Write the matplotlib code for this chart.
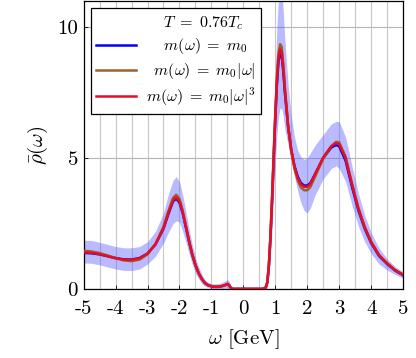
import matplotlib
matplotlib.use("Agg")
import matplotlib.pyplot as plt
from matplotlib.lines import Line2D

plt.rcParams['mathtext.fontset'] = 'cm'
plt.rcParams['font.family'] = ['cmr10', 'DejaVu Serif']
plt.rcParams['axes.unicode_minus'] = False

omega = [-5.0, -4.75, -4.5, -4.25, -4.0, -3.75, -3.5, -3.25, -3.0, -2.75, -2.5, -2.35, -2.2, -2.1, -2.0,
         -1.9, -1.8, -1.7, -1.6, -1.5, -1.4, -1.3, -1.2, -1.1, -1.0, -0.9, -0.8, -0.7, -0.6, -0.5,
         -0.45, -0.4, -0.35, 0.0, 0.6, 0.7, 0.75, 0.8, 0.85, 0.9, 0.95, 1.0, 1.05, 1.1, 1.15,
         1.2, 1.25, 1.3, 1.4, 1.5, 1.6, 1.7, 1.8, 1.9, 2.0, 2.1, 2.25, 2.5, 2.75, 2.9,
         3.0, 3.2, 3.4, 3.6, 3.8, 4.0, 4.25, 4.5, 4.75, 5.0]

rho_const = [1.38, 1.36, 1.32, 1.25, 1.18, 1.13, 1.12, 1.18, 1.35, 1.70, 2.30, 2.85, 3.35, 3.45, 3.30,
             2.90, 2.35, 1.80, 1.30, 0.90, 0.60, 0.38, 0.22, 0.14, 0.10, 0.08, 0.08, 0.10, 0.13, 0.19,
             0.15, 0.05, 0.00, 0.00, 0.00, 0.05, 0.25, 0.90, 2.00, 3.40, 5.00, 6.50, 7.80, 8.70, 9.00,
             8.90, 8.30, 7.50, 6.20, 5.30, 4.70, 4.30, 4.05, 3.95, 3.95, 4.05, 4.40, 5.00, 5.40, 5.50,
             5.45, 4.90, 3.90, 3.00, 2.30, 1.75, 1.25, 0.95, 0.70, 0.52]

rho_lin = [1.46, 1.43, 1.37, 1.28, 1.18, 1.09, 1.06, 1.12, 1.32, 1.72, 2.38, 2.96, 3.48, 3.60, 3.44,
           3.00, 2.42, 1.84, 1.32, 0.91, 0.60, 0.38, 0.22, 0.14, 0.10, 0.08, 0.08, 0.10, 0.13, 0.19,
           0.15, 0.05, 0.00, 0.00, 0.00, 0.05, 0.26, 0.95, 2.10, 3.55, 5.20, 6.75, 8.10, 9.00, 9.35,
           9.25, 8.60, 7.70, 6.25, 5.25, 4.60, 4.15, 3.88, 3.77, 3.77, 3.90, 4.30, 4.98, 5.45, 5.62,
           5.60, 5.05, 4.02, 3.08, 2.36, 1.79, 1.28, 0.97, 0.72, 0.54]

rho_cub = [1.40, 1.38, 1.33, 1.25, 1.17, 1.12, 1.11, 1.17, 1.35, 1.71, 2.33, 2.90, 3.40, 3.50, 3.36,
           2.95, 2.40, 1.84, 1.33, 0.92, 0.61, 0.38, 0.22, 0.14, 0.10, 0.08, 0.08, 0.10, 0.13, 0.19,
           0.15, 0.05, 0.00, 0.00, 0.00, 0.05, 0.25, 0.92, 2.05, 3.48, 5.10, 6.62, 7.95, 8.85, 9.15,
           9.05, 8.45, 7.60, 6.25, 5.32, 4.68, 4.25, 4.00, 3.90, 3.90, 4.02, 4.40, 5.03, 5.45, 5.57,
           5.53, 5.00, 4.00, 3.08, 2.36, 1.80, 1.29, 0.98, 0.72, 0.54]

band_upper = [1.86, 1.85, 1.78, 1.70, 1.62, 1.57, 1.57, 1.62, 1.80, 2.20, 2.90, 3.60, 4.15, 4.30, 4.10,
              3.60, 2.95, 2.30, 1.70, 1.20, 0.85, 0.55, 0.35, 0.25, 0.20, 0.19, 0.20, 0.23, 0.28, 0.36,
              0.30, 0.15, 0.05, 0.00, 0.00, 0.15, 0.50, 1.40, 2.80, 4.50, 6.40, 8.30, 10.0, 11.2, 11.6,
              11.5, 10.6, 9.50, 7.80, 6.60, 5.80, 5.30, 5.05, 4.95, 5.00, 5.20, 5.50, 5.90, 6.30, 6.40,
              6.40, 5.80, 4.70, 3.65, 2.80, 2.15, 1.55, 1.15, 0.85, 0.65]

band_lower = [0.99, 0.98, 0.92, 0.84, 0.76, 0.71, 0.70, 0.76, 0.95, 1.25, 1.75, 2.15, 2.50, 2.60, 2.55,
              2.20, 1.80, 1.35, 0.95, 0.60, 0.38, 0.20, 0.10, 0.05, 0.02, 0.00, 0.00, 0.01, 0.02, 0.04,
              0.00, 0.00, 0.00, 0.00, 0.00, 0.00, 0.05, 0.50, 1.30, 2.40, 3.70, 4.90, 5.90, 6.60, 6.90,
              6.90, 6.60, 6.10, 5.50, 4.90, 4.30, 3.75, 3.30, 3.00, 2.90, 3.10, 3.60, 4.20, 4.60, 4.70,
              4.60, 4.10, 3.20, 2.40, 1.80, 1.35, 0.95, 0.72, 0.55, 0.40]

xticks = [-5, -4, -3, -2, -1, 0, 1, 2, 3, 4, 5]
xticklabels = ['-5', '-4', '-3', '-2', '-1', '0', '1', '2', '3', '4', '5']
yticks = [0, 5, 10]
yticklabels = ['0', '5', '10']

labels = [r'$\quad\; T \;=\; 0.76 T_c$', r'$\quad\; m(\omega) \;=\; m_0$',
          r'$\;\; m(\omega) \;=\; m_0|\omega|$', r'$m(\omega) \;=\; m_0|\omega|^3$']

fig = plt.figure(figsize=(4.16, 3.58), dpi=100)
ax = fig.add_axes([0.201, 0.193, 0.768, 0.804])

ax.fill_between(omega, band_lower, band_upper, color=(0.4, 0.4, 1.0), alpha=0.45, lw=0, zorder=2)
l1, = ax.plot(omega, rho_const, color=(0, 0, 1), lw=1.8, zorder=3)
l2, = ax.plot(omega, rho_lin, color=(0.62, 0.38, 0.18), lw=1.8, zorder=4)
l3, = ax.plot(omega, rho_cub, color=(0.9, 0.05, 0.15), lw=1.8, zorder=5)

ax.set_xlim(-5, 5)
ax.set_ylim(0, 11)
ax.set_xticks(xticks)
ax.set_xticklabels(xticklabels, fontsize=15)
ax.set_yticks(yticks)
ax.set_yticklabels(yticklabels, fontsize=15)
ax.set_xticks([x + 0.5 for x in xticks[:-1]], minor=True)
ax.tick_params(direction='in', length=3, width=0.6)
ax.tick_params(axis='x', pad=8)
ax.tick_params(axis='y', pad=4)
ax.tick_params(which='minor', length=0)
ax.grid(True, which='both', axis='x', color='#c8c8c8', lw=0.8, zorder=0)
ax.grid(True, which='major', axis='y', color='#b4b4b4', lw=0.8, zorder=0)
ax.set_axisbelow(True)
for s in ax.spines.values():
    s.set_linewidth(0.9)

ax.set_xlabel(r'$\omega\ [\mathrm{GeV}]$', fontsize=15, labelpad=7)
ax.set_ylabel(r'$\bar{\rho}(\omega)$', fontsize=15, labelpad=5)

blank = Line2D([], [], linestyle='none')
leg = ax.legend([blank, l1, l2, l3], labels, loc='upper left', bbox_to_anchor=(0.0, 1.0),
                fontsize=11.5, frameon=True, fancybox=False, framealpha=1, edgecolor='black',
                handlelength=2.5, handletextpad=0.6, borderpad=0.35, labelspacing=0.3,
                borderaxespad=0.45)
leg.get_frame().set_linewidth(0.9)
leg.set_zorder(10)

fig.savefig('out.png', dpi=100)
